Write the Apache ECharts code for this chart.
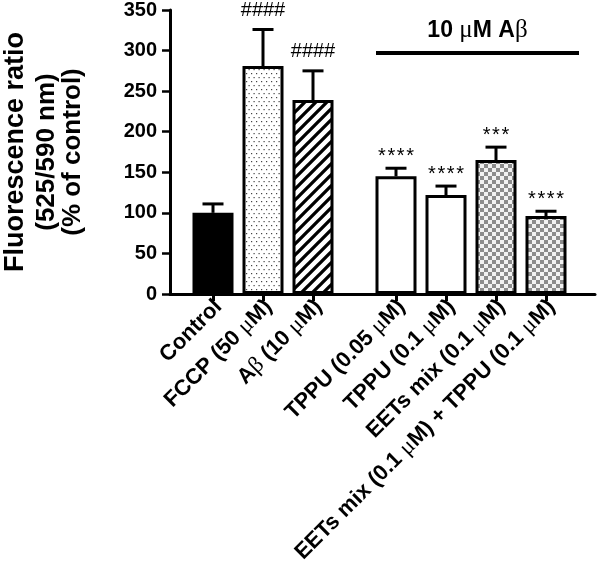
<!DOCTYPE html>
<html>
<head>
<meta charset="utf-8">
<script src="https://cdn.jsdelivr.net/npm/echarts@6/dist/echarts.min.js"></script>
<style>html,body{margin:0;padding:0;background:#fff;}#c{width:600px;height:567px;}</style>
</head>
<body>
<div id="c"></div>
<script>
// ---- data ----
const categories = ['Control', 'FCCP (50 {g|μ}M)', 'A{g|β} (10 {g|μ}M)', 'TPPU (0.05 {g|μ}M)', 'TPPU (0.1 {g|μ}M)', 'EETs mix (0.1 {g|μ}M)', 'EETs mix (0.1 {g|μ}M) + TPPU (0.1 {g|μ}M)'];
const means = [100, 281, 239, 145, 122, 165, 96];
const errors = [11, 45, 36, 10, 11, 16, 6];
const sigLabels = ['', '####', '####', '****', '****', '***', '****'];
const yTicks = [0, 50, 100, 150, 200, 250, 300, 350];
const yTitleLines = ['Fluorescence ratio', '(525/590 nm)', '(% of control)'];
const bracketText = '10 {g|μ}M A{g|β}';

// ---- layout (group gap between controls and treated groups) ----
const groupGap = 0.66;
const xPos = categories.map((c, i) => i + 1 + (i >= 3 ? groupGap : 0));

function tile(w, h, draw) {
  const c = document.createElement('canvas');
  c.width = w; c.height = h;
  const ctx = c.getContext('2d');
  draw(ctx, w, h);
  return c;
}
const dots = tile(5, 8, (ctx, w, h) => {
  ctx.fillStyle = '#fff'; ctx.fillRect(0, 0, w, h);
  ctx.fillStyle = '#444';
  ctx.fillRect(1, 1, 1.2, 1.2);
  ctx.fillRect(3.5, 5, 1.2, 1.2);
});
const stripes = tile(11, 11, (ctx, w, h) => {
  ctx.fillStyle = '#fff'; ctx.fillRect(0, 0, w, h);
  ctx.strokeStyle = '#000'; ctx.lineWidth = 3.3;
  ctx.beginPath();
  ctx.moveTo(-5.5, 5.5); ctx.lineTo(5.5, -5.5);
  ctx.moveTo(0, 11); ctx.lineTo(11, 0);
  ctx.moveTo(5.5, 16.5); ctx.lineTo(16.5, 5.5);
  ctx.stroke();
});
const checker = tile(8, 8, (ctx, w, h) => {
  ctx.fillStyle = '#f2f2f2'; ctx.fillRect(0, 0, w, h);
  ctx.fillStyle = '#8c8c8c';
  ctx.fillRect(0, 0, 4, 4); ctx.fillRect(4, 4, 4, 4);
});
const fills = ['#000',
  {image: dots, repeat: 'repeat'},
  {image: stripes, repeat: 'repeat'},
  '#fff', '#fff',
  {image: checker, repeat: 'repeat'},
  {image: checker, repeat: 'repeat'}];

const FONT = 'Liberation Sans, Arial, sans-serif';
const greek = {g: {fontFamily: 'Liberation Serif, serif', fontWeight: 'normal', fontSize: 23, color: '#000'}};

const chart = echarts.init(document.getElementById('c'), null, {renderer: 'canvas'});
chart.setOption({
  animation: false,
  backgroundColor: '#fff',
  grid: {left: 170, right: 5, top: 10, bottom: 273, containLabel: false, outerBoundsMode: 'none'},
  xAxis: {
    type: 'value', min: 0.14, max: 8.64,
    splitLine: {show: false},
    axisLine: {show: true, onZero: false, lineStyle: {color: '#000', width: 3}},
    axisTick: {show: true, customValues: xPos, length: 7, lineStyle: {color: '#000', width: 3}},
    axisLabel: {
      show: true, customValues: xPos, rotate: 45, margin: 15,
      padding: [0, -8, 0, 0],
      fontFamily: FONT, fontWeight: 'bold', fontSize: 22, color: '#000',
      rich: greek,
      formatter: v => {
        const i = xPos.findIndex(p => Math.abs(p - v) < 1e-6);
        return i >= 0 ? categories[i] : '';
      }
    }
  },
  yAxis: {
    type: 'value', min: 0, max: 350, interval: 50,
    splitLine: {show: false},
    axisLine: {show: true, onZero: false, lineStyle: {color: '#000', width: 3}},
    axisTick: {show: true, length: 8, lineStyle: {color: '#000', width: 2.5}},
    axisLabel: {
      margin: 13, fontFamily: FONT, fontWeight: 'bold', fontSize: 20, color: '#000',
      customValues: yTicks
    },
    name: '{a|' + yTitleLines[0] + '}\n{b|' + yTitleLines[1] + '}\n{b|' + yTitleLines[2] + '}',
    nameLocation: 'middle', nameRotate: 90, nameGap: 84,
    nameTextStyle: {
      fontFamily: FONT, fontWeight: 'bold', color: '#000', align: 'center',
      rich: {
        a: {fontFamily: FONT, fontWeight: 'bold', fontSize: 27, lineHeight: 36, color: '#000'},
        b: {fontFamily: FONT, fontWeight: 'bold', fontSize: 26, lineHeight: 26, color: '#000'}
      }
    }
  },
  series: [
    {
      type: 'bar',
      barWidth: 41,
      data: means.map((m, i) => ({value: [xPos[i], m], itemStyle: {color: fills[i]}})),
      itemStyle: {borderColor: '#000', borderWidth: 3},
      markLine: {
        silent: true, symbol: ['none', 'none'],
        lineStyle: {color: '#000', width: 4, type: 'solid'},
        label: {
          show: true, position: 'insideMiddleTop', distance: 10,
          formatter: bracketText,
          fontFamily: FONT, fontWeight: 'bold', fontSize: 23, color: '#000',
          rich: {g: {fontFamily: 'Liberation Serif, serif', fontWeight: 'normal', fontSize: 25, color: '#000'}}
        },
        data: [[{coord: [4.26, 297]}, {coord: [8.32, 297]}]]
      }
    },
    {
      type: 'custom',
      data: means.map((m, i) => [xPos[i], m, errors[i]]),
      renderItem: (params, api) => {
        const x = api.value(0), m = api.value(1), e = api.value(2);
        const base = api.coord([x, m]);
        const top = api.coord([x, m + e]);
        const label = sigLabels[params.dataIndex];
        const hash = label.charAt(0) === '#';
        const children = [
          {type: 'line', shape: {x1: base[0], y1: base[1], x2: top[0], y2: top[1]}, style: {stroke: '#000', lineWidth: 3}},
          {type: 'line', shape: {x1: top[0] - 10.5, y1: top[1], x2: top[0] + 10.5, y2: top[1]}, style: {stroke: '#000', lineWidth: 3}}
        ];
        if (label) {
          children.push({
            type: 'text',
            x: top[0], y: top[1] - (hash ? 19 : 12),
            style: {
              text: hash ? label : label.split('').join('\u200A'),
              fontFamily: FONT, fontSize: 20, fill: '#000',
              align: 'center', verticalAlign: 'middle'
            }
          });
        }
        return {type: 'group', children};
      },
      z: 5
    }
  ]
});
</script>
</body>
</html>
